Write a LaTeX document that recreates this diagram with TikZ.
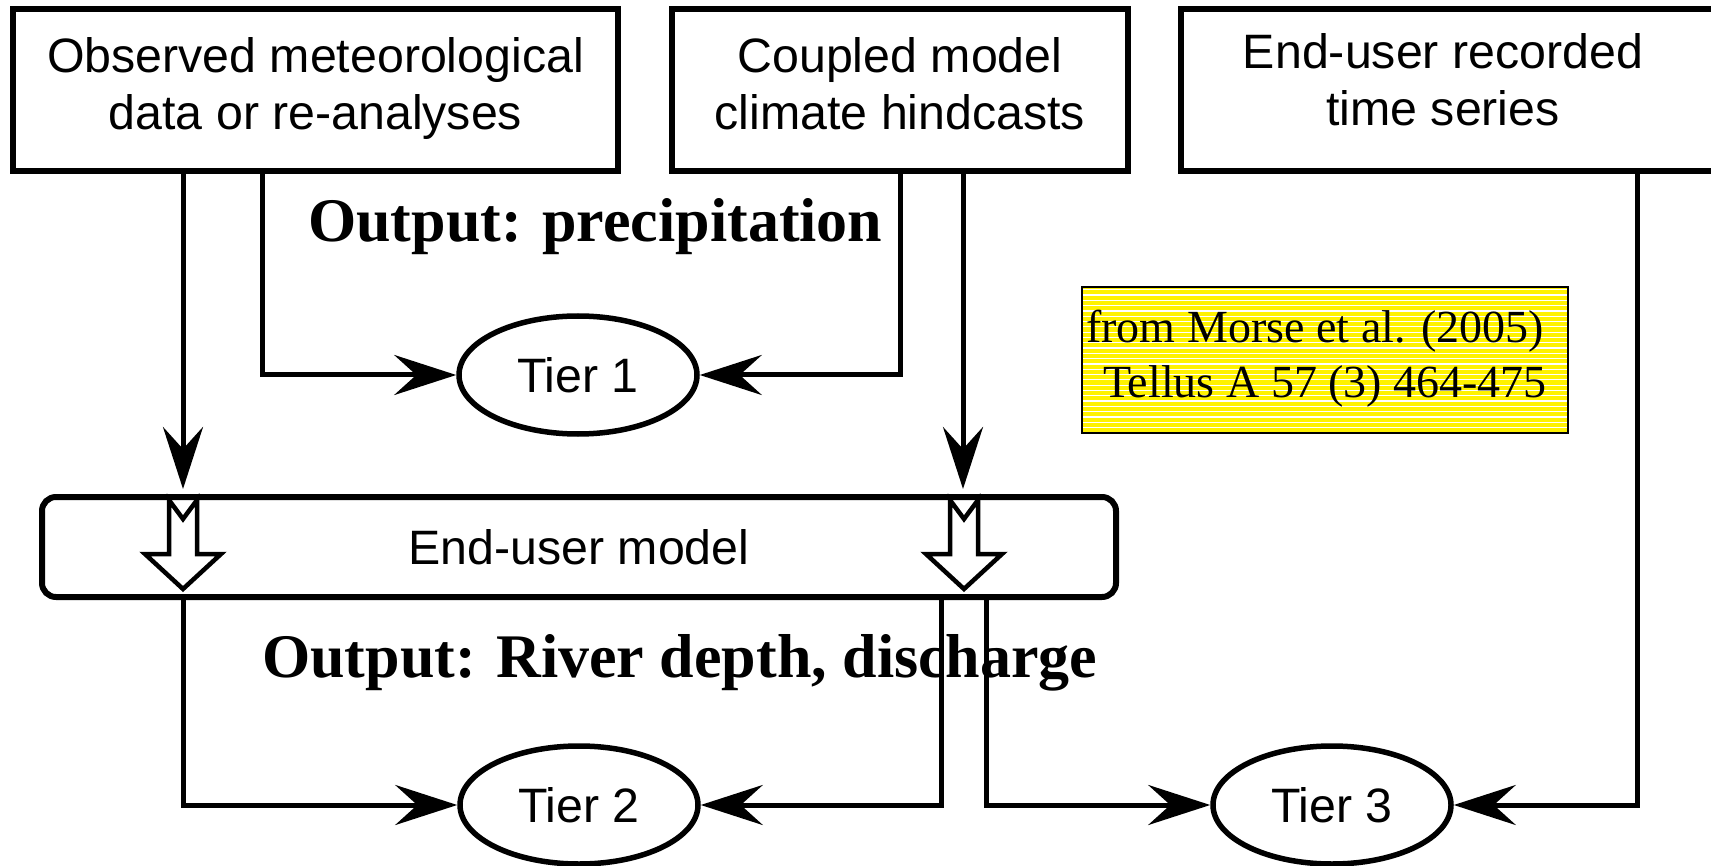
\documentclass[tikz,border=0pt]{standalone}
\usepackage{fontspec}
\setmainfont{Liberation Sans}
\newfontfamily\timesf{Liberation Serif}
\usetikzlibrary{arrows.meta,shapes.geometric}
\newcommand\sansbig{\fontsize{48.3}{57}\selectfont}
\newcommand\boldlab{\timesf\bfseries\fontsize{62}{70}\selectfont}
\newcommand\citefont{\timesf\fontsize{46}{55}\selectfont}
\begin{document}
\begin{tikzpicture}[x=1pt,y=-1pt,
  box/.style={draw, line width=6.5pt, rectangle, inner sep=0pt, align=center, font=\sansbig},
  tier/.style={draw, ellipse, line width=5.5pt, inner sep=0pt, minimum width=238pt, minimum height=118pt, font=\sansbig},
  conn/.style={line width=5pt, -{Stealth[length=62pt, width=40pt, inset=22pt]}},
  hollow/.style={draw, line width=4.5pt, fill=white, miter limit=10},
  outlab/.style={anchor=base west, inner sep=0pt, font=\boldlab}
]
\useasboundingbox (0,0) rectangle (1711,866);
\clip (0,0) rectangle (1711,866);

% top boxes
\node[box, minimum width=605pt, minimum height=162pt] (obs) at (315.5,90) {\strut Observed meteorological\\\strut data or re-analyses};
\node[box, minimum width=456pt, minimum height=162pt] (hind) at (900,90) {\strut Coupled model\\\strut climate hindcasts};
\node[box, minimum width=580pt, minimum height=162pt] (rec) at (1471,90) {};
\node[align=center, inner sep=0pt, font=\sansbig] (rectext) at (1443,86) {\strut End-user recorded\\\strut time series};

% output labels
\node[outlab] (outp) at (308,242) {Output: precipitation};
\node[outlab] (outr) at (262,677) {Output: River depth, discharge};

% tiers
\node[tier] (t1) at (578,375) {Tier 1};
\node[tier] (t2) at (579,805) {Tier 2};
\node[tier] (t3) at (1332,805) {Tier 3};

% end-user model
\node[draw, line width=6pt, rounded corners=14pt, minimum width=1074pt, minimum height=100pt, inner sep=0pt, font=\sansbig] (model) at (579,547) {End-user model};

% hollow arrows inside the model box
\foreach \cx in {183,964}
  \draw[hollow] (\cx-14,500) -- (\cx,519) -- (\cx+14,500) -- (\cx+14,554) -- (\cx+38,554) -- (\cx,589) -- (\cx-38,554) -- (\cx-14,554) -- cycle;

% citation box
\node[fill=yellow, minimum width=486pt, minimum height=146pt, inner sep=0pt] (cbox) at (1325,360) {};
\begin{scope}
  \clip (cbox.north west) rectangle (cbox.south east);
  \foreach \yy in {0,5.3,...,150}
    \draw[white, line width=1.2pt] ([yshift=-\yy pt-3pt]cbox.north west) -- ([yshift=-\yy pt-3pt]cbox.north east);
\end{scope}
\draw[line width=1.5pt] (cbox.north west) rectangle (cbox.south east);
\node[align=center, inner sep=0pt, font=\citefont] (cite) at (1325,359) {\strut from Morse et al. (2005)\kern20pt\\\strut Tellus A 57 (3) 464-475};

% connectors
\coordinate (tA) at (183,489);
\coordinate (xB) at (262,0);
\coordinate (xC) at (900,0);
\coordinate (tD) at (963,489);
\coordinate (xE) at (183,0);
\coordinate (xF) at (941,0);
\coordinate (xG) at (986,0);
\coordinate (xH) at (1637,0);

\draw[conn] (obs.south -| tA) -- (tA);
\draw[conn] (obs.south -| xB) |- (t1.west);
\draw[conn] (hind.south -| xC) |- (t1.east);
\draw[conn] (hind.south -| tD) -- (tD);
\draw[conn] (model.south -| xE) |- (t2.west);
\draw[conn] (model.south -| xF) |- (t2.east);
\draw[conn] (model.south -| xG) |- (t3.west);
\draw[conn] (rec.south -| xH) |- (t3.east);
\end{tikzpicture}
\end{document}
